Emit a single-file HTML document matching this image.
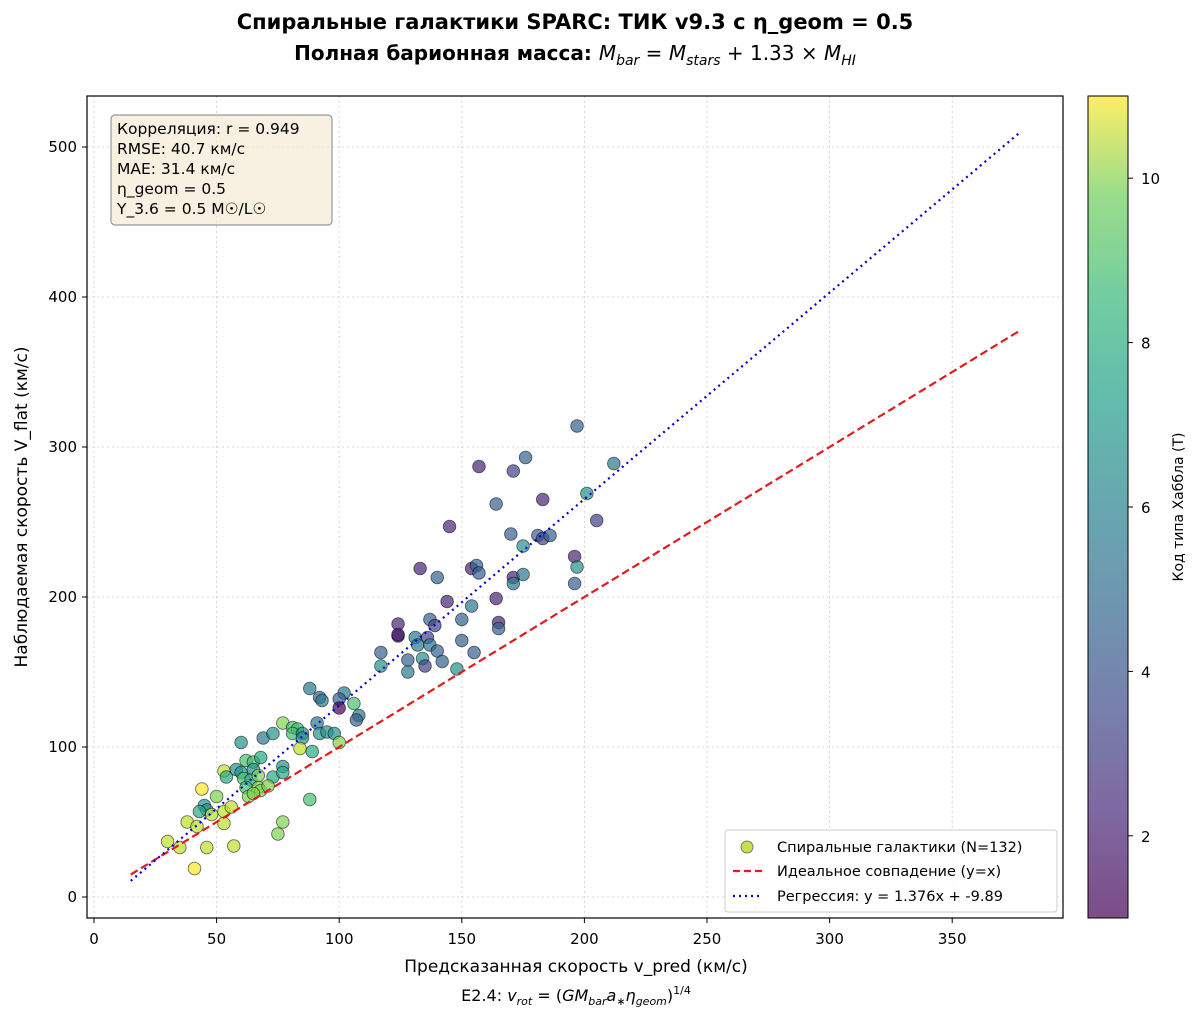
<!DOCTYPE html>
<html><head><meta charset="utf-8"><style>
body{margin:0;background:#fff}
svg text{font-family:"DejaVu Sans","Liberation Sans",sans-serif;fill:#000}
</style></head><body>
<svg id="chart" width="1200" height="1020" xmlns="http://www.w3.org/2000/svg">
<defs>
<linearGradient id="vir" x1="0" y1="1" x2="0" y2="0">
<stop offset="0" stop-color="#440154"/><stop offset="0.13" stop-color="#482878"/><stop offset="0.25" stop-color="#3e4989"/><stop offset="0.38" stop-color="#31688e"/><stop offset="0.5" stop-color="#26828e"/><stop offset="0.63" stop-color="#1f9e89"/><stop offset="0.75" stop-color="#35b779"/><stop offset="0.88" stop-color="#6ece58"/><stop offset="1" stop-color="#fde725"/>
</linearGradient>
</defs>
<text x="575" y="29" text-anchor="middle" font-size="21" font-weight="bold">Спиральные галактики SPARC: ТИК v9.3 с η_geom = 0.5</text>
<text x="575" y="60" text-anchor="middle" font-size="20"><tspan font-weight="bold">Полная барионная масса: </tspan><tspan font-style="italic">M</tspan><tspan font-style="italic" font-size="14" dy="5">bar</tspan><tspan dy="-5"> = </tspan><tspan font-style="italic">M</tspan><tspan font-style="italic" font-size="14" dy="5">stars</tspan><tspan dy="-5"> + 1.33 × </tspan><tspan font-style="italic">M</tspan><tspan font-style="italic" font-size="14" dy="5">HI</tspan></text>
<g id="grid"></g>
<g id="plot"></g>
<rect x="87" y="96" width="976" height="822" fill="none" stroke="#000" stroke-width="1.2"/>
<g id="ticks"></g>
<g>
<rect x="111" y="115" width="221" height="110" rx="4" fill="#f5ecd7" fill-opacity="0.75" stroke="#999" stroke-width="1.2"/>
<text x="117" y="134" font-size="15.5">Корреляция: r = 0.949</text>
<text x="117" y="154" font-size="15.5">RMSE: 40.7 км/с</text>
<text x="117" y="174" font-size="15.5">MAE: 31.4 км/с</text>
<text x="117" y="194" font-size="15.5">η_geom = 0.5</text>
<text x="117" y="214" font-size="15.5">Y_3.6 = 0.5 M☉/L☉</text>
</g>
<g>
<rect x="725" y="830" width="332" height="82" rx="3" fill="#fff" fill-opacity="0.85" stroke="#ccc"/>
<circle cx="747" cy="847" r="6" fill="#c6e24a" stroke="#333" stroke-opacity="0.6"/>
<text x="777" y="852" font-size="14.5">Спиральные галактики (N=132)</text>
<line x1="733" y1="871" x2="763" y2="871" stroke="#e41a1c" stroke-width="2.2" stroke-dasharray="7,4"/>
<text x="777" y="876" font-size="14.5">Идеальное совпадение (y=x)</text>
<line x1="733" y1="896" x2="763" y2="896" stroke="#0000cc" stroke-width="2.2" stroke-dasharray="2,4"/>
<text x="777" y="901" font-size="14.5">Регрессия: y = 1.376x + -9.89</text>
</g>
<text x="576" y="972" text-anchor="middle" font-size="17">Предсказанная скорость v_pred (км/с)</text>
<text x="576" y="1001" text-anchor="middle" font-size="16">E2.4: <tspan font-style="italic">v</tspan><tspan font-style="italic" font-size="11" dy="4">rot</tspan><tspan dy="-4"> = (</tspan><tspan font-style="italic">GM</tspan><tspan font-style="italic" font-size="11" dy="4">bar</tspan><tspan font-style="italic" dy="-4">a</tspan><tspan font-size="11" dy="4">∗</tspan><tspan font-style="italic" dy="-4">η</tspan><tspan font-style="italic" font-size="11" dy="4">geom</tspan><tspan dy="-4">)</tspan><tspan font-size="11" dy="-7">1/4</tspan></text>
<text transform="translate(27,507) rotate(-90)" text-anchor="middle" font-size="17">Наблюдаемая скорость V_flat (км/с)</text>
<rect x="1088" y="96" width="40" height="822" fill="url(#vir)" fill-opacity="0.7" stroke="#000"/>
<g id="cbticks"></g>
<text transform="translate(1183,507) rotate(-90)" text-anchor="middle" font-size="14">Код типа Хаббла (T)</text>
</svg>
<script>
const xTicks=[0,50,100,150,200,250,300,350];
const yTicks=[0,100,200,300,400,500];
const cbTicks=[2,4,6,8,10];
const vPred=[197,157,171,176,212,201,205,164,183,145,170,181,183,186,175,196,197,196,133,140,154,156,157,171,171,175,144,164,154,124,124,124,137,139,150,165,165,131,136,132,137,140,150,117,117,128,134,135,142,128,148,155,
88,92,93,102,100,100,106,108,107,60,69,73,77,81,83,81,85,85,91,92,95,98,100,84,89,88,53,54,58,60,62,65,68,65,61,64,67,73,77,77,62,67,68,71,63,65,44,50,45,46,43,48,53,56,38,42,53,77,75,30,35,46,57,41];
const vFlat=[314,287,284,293,289,269,251,262,265,247,242,241,239,241,234,227,220,209,219,213,219,221,216,213,209,215,197,199,194,182,174,175,185,181,185,183,179,173,173,168,168,164,171,163,154,158,159,154,157,150,152,163,
139,133,131,136,132,126,129,121,118,103,106,109,116,113,112,109,109,106,116,109,110,109,103,99,97,65,84,80,85,83,91,90,93,85,79,78,81,80,87,83,73,73,71,74,67,69,72,67,61,58,57,55,57,60,50,47,49,50,42,37,33,33,34,19];
const hubbleT=[4,2,3,4,5,6,3,4,2,2,4,4,3,4,6,2,6,4,2,4,2,4,4,2,5,5,2,2,5,2,1,2,4,3,4,2,4,5,3,5,5,4,4,4,6,4,6,3,4,5,6,4,
5,4,5,5,4,1,8,5,4,6,5,6,9,8,8,8,6,6,5,6,6,6,9,10,7,8,10,7,6,6,8,8,7,6,8,7,9,7,6,7,8,9,9,9,9,9,11,9,6,6,7,10,10,10,10,10,10,9,9,10,10,10,10,11];
const regSlope=1.376, regIntercept=-9.89, lineMin=15, lineMax=377;
const X=v=>94+v*2.452, Y=v=>897-v*1.5, CB=t=>918-(t-1)*82.2;
const ns="http://www.w3.org/2000/svg";
function mk(tag,attrs,parent){const e=document.createElementNS(ns,tag);for(const k in attrs)e.setAttribute(k,attrs[k]);parent.appendChild(e);return e;}
const vir=[[68,1,84],[72,40,120],[62,73,137],[49,104,142],[38,130,142],[31,158,137],[53,183,121],[110,206,88],[181,222,43],[253,231,37]];
function col(t){let f=(t-1)/10;f=Math.max(0,Math.min(1,f))*(vir.length-1);const i=Math.min(vir.length-2,Math.floor(f)),r=f-i;const c=vir[i].map((a,j)=>Math.round(a+(vir[i+1][j]-a)*r));return `rgb(${c})`;}
const grid=document.getElementById('grid'),ticks=document.getElementById('ticks'),plot=document.getElementById('plot'),cb=document.getElementById('cbticks');
xTicks.forEach(v=>{
 const g=mk('line',{x1:X(v),x2:X(v),y1:96,y2:918,stroke:'#ccc','stroke-dasharray':'2,3','stroke-width':0.8},grid);
 
 
 mk('line',{x1:X(v),x2:X(v),y1:918,y2:923,stroke:'#000'},ticks);
 const t=mk('text',{x:X(v),y:944,'text-anchor':'middle','font-size':15},ticks);t.textContent=v;
 
 
});
yTicks.forEach(v=>{
 const g=mk('line',{x1:87,x2:1063,y1:Y(v),y2:Y(v),stroke:'#ccc','stroke-dasharray':'2,3','stroke-width':0.8},grid);
 
 
 mk('line',{x1:82,x2:87,y1:Y(v),y2:Y(v),stroke:'#000'},ticks);
 const t=mk('text',{x:77,y:Y(v)+5,'text-anchor':'end','font-size':15},ticks);t.textContent=v;
 
 
});
cbTicks.forEach(v=>{
 mk('line',{x1:1128,x2:1133,y1:CB(v),y2:CB(v),stroke:'#000'},cb);
 const t=mk('text',{x:1141,y:CB(v)+6,'font-size':15},cb);t.textContent=v;
 
 
});
vPred.forEach((v,i)=>{
 const c=mk('circle',{cx:X(v),cy:Y(vFlat[i]),r:6.3,fill:col(hubbleT[i]),'fill-opacity':0.7,stroke:'#000','stroke-opacity':0.55,'stroke-width':0.9},plot);
 
 
});
const l1=mk('line',{x1:X(lineMin),y1:Y(lineMin),x2:X(lineMax),y2:Y(lineMax),stroke:'#e41a1c','stroke-width':2.2,'stroke-dasharray':'8,4'},plot);


const l2=mk('line',{x1:X(lineMin),y1:Y(regSlope*lineMin+regIntercept),x2:X(lineMax),y2:Y(regSlope*lineMax+regIntercept),stroke:'#0000cc','stroke-width':2.2,'stroke-dasharray':'2,4'},plot);


</script>
</body></html>
